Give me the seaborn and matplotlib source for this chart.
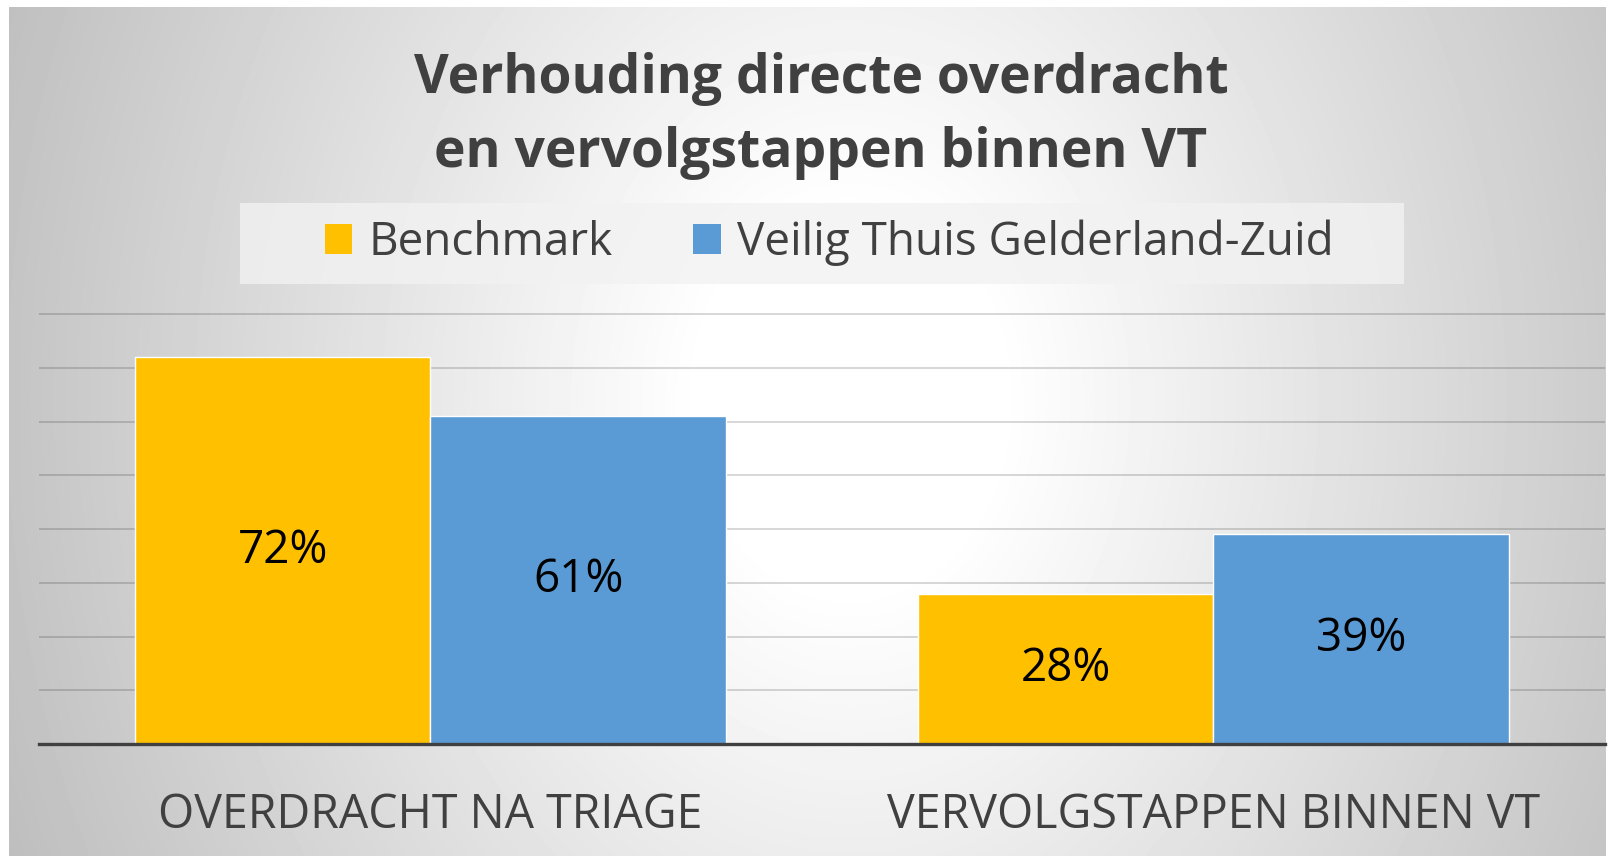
import numpy as np
import pandas as pd
import matplotlib
matplotlib.use('Agg')
import matplotlib.pyplot as plt
import seaborn as sns
from matplotlib.patches import Patch, Rectangle

# Chart data
categories = ['OVERDRACHT NA TRIAGE', 'VERVOLGSTAPPEN BINNEN VT']
series = ['Benchmark', 'Veilig Thuis Gelderland-Zuid']
benchmark = [0.72, 0.28]
vtgz = [0.61, 0.39]
colors = ['#FFC000', '#5B9BD5']
title_lines = ['Verhouding directe overdracht', 'en vervolgstappen binnen VT']

df = pd.DataFrame({
    'categorie': categories * 2,
    'reeks': [series[0]] * len(categories) + [series[1]] * len(categories),
    'waarde': benchmark + vtgz,
})

sns.set_theme(style='white')
plt.rcParams['font.family'] = ['Open Sans', 'DejaVu Sans']

W, H = 1615, 856
fig = plt.figure(figsize=(W / 100, H / 100), dpi=100)

# radial grey-to-white background like the Excel chart area
bg = fig.add_axes([0, 0, 1, 1], zorder=-10)
yy, xx = np.mgrid[0:H, 0:W]
d = np.hypot(xx - 850, (yy - 400) * 0.8)
v = 1 - 0.216 * np.clip((d - 150) / 650, 0, None)
v[(xx < 9) | (xx > 1605) | (yy < 7)] = 1.0
bg.imshow(v, cmap='gray', vmin=0, vmax=1, extent=(0, W, H, 0), aspect='auto', interpolation='bilinear')
bg.axis('off')

# legend background box
fig.add_artist(Rectangle((240 / W, 1 - 284 / H), (1404 - 240) / W, (284 - 203) / H,
                         transform=fig.transFigure, facecolor='#f2f2f2', alpha=0.8,
                         edgecolor='none', zorder=0))

ax = fig.add_axes([39 / W, 1 - 744 / H, (1605 - 39) / W, (744 - 313) / H])
ax.patch.set_alpha(0)

sns.barplot(data=df, x='categorie', y='waarde', hue='reeks', palette=colors,
            width=0.754, gap=0, saturation=1, edgecolor='white', linewidth=1,
            legend=False, ax=ax)

ax.set_ylim(0, 0.802)
ax.set_yticks(np.arange(0.1, 0.81, 0.1))
ax.yaxis.grid(True, color='black', alpha=0.2, linewidth=1.1)
ax.set_axisbelow(True)
ax.tick_params(axis='y', left=False, labelleft=False)
ax.tick_params(axis='x', bottom=False, labelsize=33.5, labelcolor='#404040', pad=28)
ax.set_xlabel('')
ax.set_ylabel('')
for s in ['top', 'left', 'right']:
    ax.spines[s].set_visible(False)
ax.spines['bottom'].set_color('#404040')
ax.spines['bottom'].set_linewidth(2.4)

for cont in ax.containers:
    ax.bar_label(cont, fmt=lambda x: f'{x * 100:.0f}%', label_type='center',
                 fontsize=33, color='black')

handles = [Patch(facecolor=c, edgecolor='none') for c in colors]
fig.legend(handles, series, loc='center', bbox_to_anchor=(829 / W, 1 - 243 / H),
           ncol=2, frameon=False, fontsize=33, handlelength=0.6, handleheight=0.63,
           handletextpad=0.35, columnspacing=1.76, labelcolor='#404040')

for txt, base in zip(title_lines, [93, 167]):
    fig.text(821 / W, 1 - base / H, txt, ha='center', va='baseline', fontsize=38.5,
             fontweight='bold', color='#404040')

fig.savefig('out.png', dpi=100)
